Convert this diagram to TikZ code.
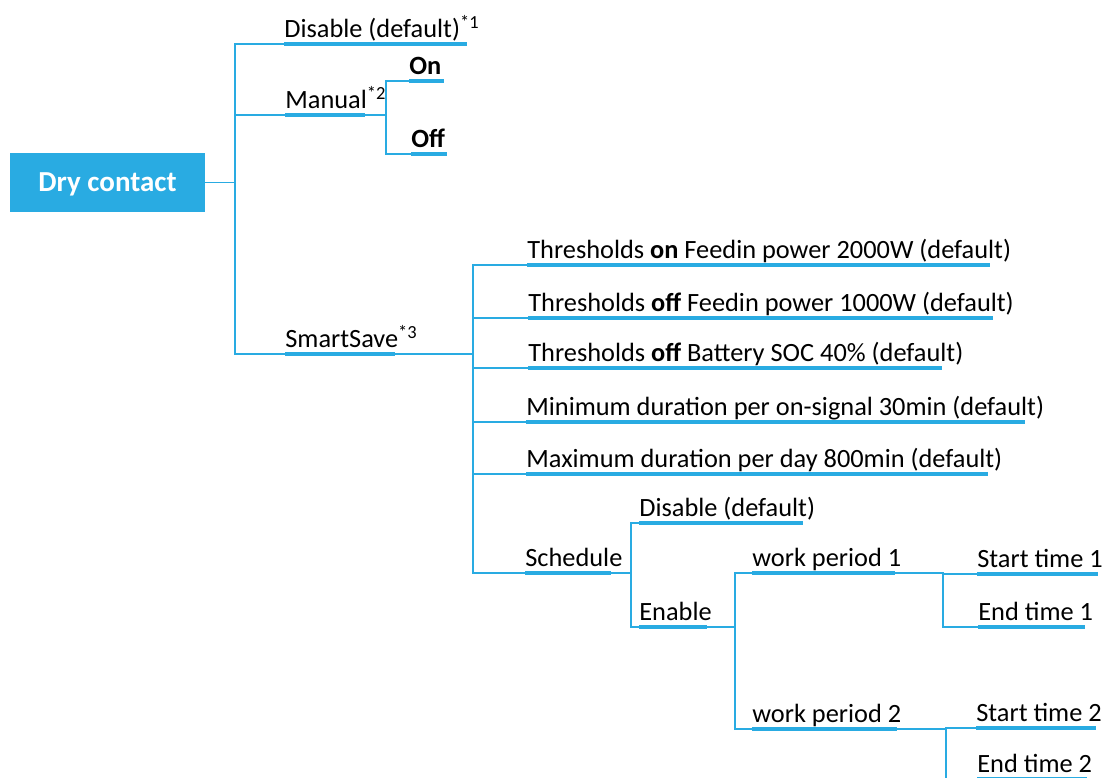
\documentclass[tikz,border=0pt]{standalone}
\usepackage{fontspec}
\setmainfont{Carlito}
\usepackage{tikz}

\begin{document}
\begin{tikzpicture}[x=0.02cm, y=-0.02cm,
    item/.style={anchor=south west, inner sep=0pt, text depth=3.4pt, font=\fontsize{15}{18}\selectfont},
    uline/.style={draw=dryblue, line width=2.8pt},
    link/.style={draw=dryblue, line width=0.7pt}]
        % Define the blue used for the box, the underlines and the lines
        \definecolor{dryblue}{RGB}{41,171,226}

        % Fix the page to the size of the picture
        \useasboundingbox (0,0) rectangle (1103,778);
        \clip (0,0) rectangle (1103,778);

        % Draw the root box
        \node[fill=dryblue, text=white, minimum width=3.9cm, minimum height=1.18cm, text depth=0pt, font=\fontsize{16.5}{20}\selectfont\bfseries] (dry) at (107.5,182.5) {Dry contact};

        % First level
        \node[item] (disable) at (284,44) {Disable (default)\rlap{\textsuperscript{*1}}};
        \node[item] (manual) at (285,115) {Manual\rlap{\textsuperscript{*2}}};
        \node[item] (smartsave) at (285,354) {SmartSave\rlap{\textsuperscript{*3}}};

        % Manual: on / off
        \node[item, font=\fontsize{15}{18}\selectfont\bfseries] (on) at (409,81) {On};
        \node[item, font=\fontsize{15}{18}\selectfont\bfseries] (off) at (411,154) {Off};

        % SmartSave settings
        \node[item] (th1) at (527,265) {Thresholds \textbf{on} Feedin power 2000W (default)};
        \node[item] (th2) at (528,318) {Thresholds \textbf{off} Feedin power 1000W (default)};
        \node[item] (th3) at (528,368) {Thresholds \textbf{off} Battery SOC 40\% (default)};
        \node[item] (mindur) at (526,422) {Minimum duration per on-signal 30min (default)};
        \node[item] (maxdur) at (526,474) {Maximum duration per day 800min (default)};
        \node[item] (schedule) at (525,573) {Schedule};

        % Schedule: disable / enable
        \node[item] (sdisable) at (639,523) {Disable (default)};
        \node[item] (enable) at (639,627) {Enable};

        % Work periods and their times
        \node[item] (wp1) at (752,573) {work period 1};
        \node[item] (wp2) at (752,729) {work period 2};
        \node[item] (start1) at (977,574) {Start time 1};
        \node[item] (end1) at (978,627) {End time 1};
        \node[item] (start2) at (976,728) {Start time 2};
        \node[item] (end2) at (977,779) {End time 2};

        % Underline ends, where the tree lines leave
        \foreach \n/\w in {disable/183, manual/80, smartsave/110, on/35, off/36,
                th1/463, th2/465, th3/414, mindur/499, maxdur/462, schedule/86,
                sdisable/164, enable/68, wp1/143, wp2/145,
                start1/121, end1/107, start2/120, end2/110}
            \coordinate (\n-end) at ([xshift=\w*0.02cm]\n.south west);

        % Draw the tree lines
        \foreach \c in {disable,manual,smartsave}
            \draw[link] (dry.east) -- (235,0 |- dry.east) |- (\c.south west);
        \foreach \c in {on,off}
            \draw[link] (manual-end) -- (386,0 |- manual-end) |- (\c.south west);
        \foreach \c in {th1,th2,th3,mindur,maxdur,schedule}
            \draw[link] (smartsave-end) -- (473,0 |- smartsave-end) |- (\c.south west);
        \foreach \c in {sdisable,enable}
            \draw[link] (schedule-end) -- (631,0 |- schedule-end) |- (\c.south west);
        \foreach \c in {wp1,wp2}
            \draw[link] (enable-end) -- (735,0 |- enable-end) |- (\c.south west);
        \foreach \c in {start1,end1}
            \draw[link] (wp1-end) -- (943,0 |- wp1-end) |- (\c.south west);
        \foreach \c in {start2,end2}
            \draw[link] (wp2-end) -- (946,0 |- wp2-end) |- (\c.south west);

        % Draw the thick underlines
        \foreach \n in {disable,manual,smartsave,on,off,th1,th2,th3,mindur,maxdur,
                schedule,sdisable,enable,wp1,wp2,start1,end1,start2,end2}
            \draw[uline] (\n.south west) -- (\n-end);

    \end{tikzpicture}
\end{document}
